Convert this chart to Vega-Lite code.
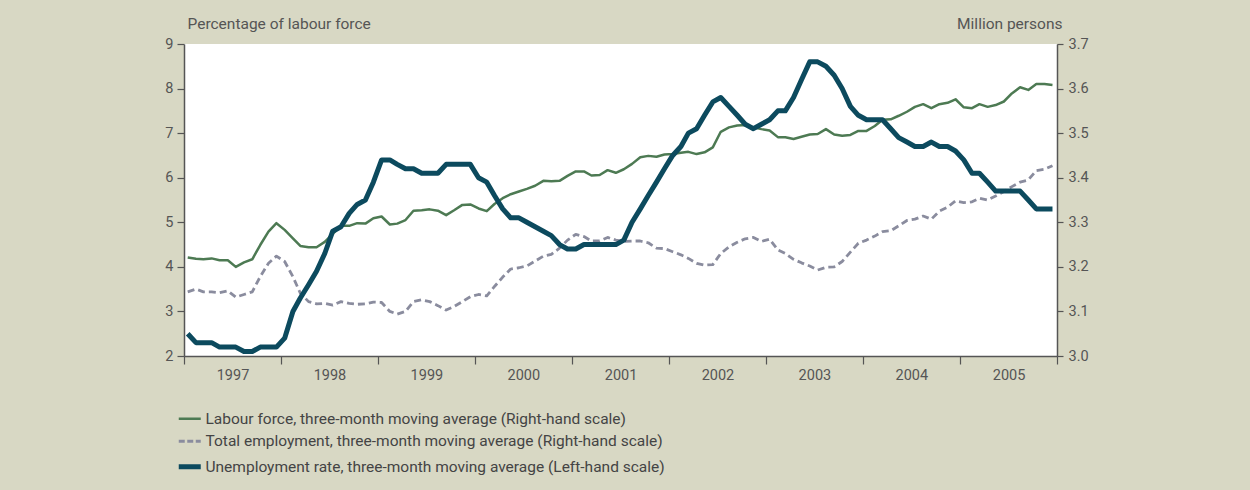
{
  "$schema": "https://vega.github.io/schema/vega-lite/v6.json",
  "width": 873,
  "height": 312,
  "autosize": {"type": "none"},
  "padding": {"left": 184, "top": 44, "right": 193, "bottom": 134},
  "background": "#d8d8c4",
  "config": {
    "view": {"fill": "white", "stroke": null},
    "font": "Roboto",
    "axis": {
      "labelFont": "Roboto", "labelFontSize": 14.5, "labelColor": "#555555",
      "titleFont": "Roboto", "titleFontSize": 15.5, "titleColor": "#555555", "titleFontWeight": "normal",
      "domainColor": "#555555", "domainWidth": 1.5, "tickColor": "#555555", "tickWidth": 1.2,
      "grid": false
    },
    "legend": {
      "labelFont": "Roboto", "labelFontSize": 15.5, "labelColor": "#444444", "labelLimit": 800
    }
  },
  "data": {
    "values": [
      {"d":"1997-01-15","lf":3.221,"emp":3.144,"ur":2.5},
      {"d":"1997-02-15","lf":3.218,"emp":3.150,"ur":2.3},
      {"d":"1997-03-15","lf":3.217,"emp":3.144,"ur":2.3},
      {"d":"1997-04-15","lf":3.219,"emp":3.144,"ur":2.3},
      {"d":"1997-05-15","lf":3.215,"emp":3.142,"ur":2.2},
      {"d":"1997-06-15","lf":3.215,"emp":3.146,"ur":2.2},
      {"d":"1997-07-15","lf":3.200,"emp":3.132,"ur":2.2},
      {"d":"1997-08-15","lf":3.210,"emp":3.138,"ur":2.1},
      {"d":"1997-09-15","lf":3.217,"emp":3.144,"ur":2.1},
      {"d":"1997-10-15","lf":3.249,"emp":3.178,"ur":2.2},
      {"d":"1997-11-15","lf":3.279,"emp":3.208,"ur":2.2},
      {"d":"1997-12-15","lf":3.298,"emp":3.224,"ur":2.2},
      {"d":"1998-01-15","lf":3.283,"emp":3.212,"ur":2.4},
      {"d":"1998-02-15","lf":3.264,"emp":3.178,"ur":3.0},
      {"d":"1998-03-15","lf":3.247,"emp":3.141,"ur":3.3},
      {"d":"1998-04-15","lf":3.244,"emp":3.122,"ur":3.6},
      {"d":"1998-05-15","lf":3.244,"emp":3.117,"ur":3.9},
      {"d":"1998-06-15","lf":3.256,"emp":3.118,"ur":4.3},
      {"d":"1998-07-15","lf":3.274,"emp":3.114,"ur":4.8},
      {"d":"1998-08-15","lf":3.292,"emp":3.122,"ur":4.9},
      {"d":"1998-09-15","lf":3.292,"emp":3.118,"ur":5.2},
      {"d":"1998-10-15","lf":3.298,"emp":3.116,"ur":5.4},
      {"d":"1998-11-15","lf":3.297,"emp":3.117,"ur":5.5},
      {"d":"1998-12-15","lf":3.309,"emp":3.121,"ur":5.9},
      {"d":"1999-01-15","lf":3.313,"emp":3.120,"ur":6.4},
      {"d":"1999-02-15","lf":3.295,"emp":3.100,"ur":6.4},
      {"d":"1999-03-15","lf":3.297,"emp":3.094,"ur":6.3},
      {"d":"1999-04-15","lf":3.305,"emp":3.100,"ur":6.2},
      {"d":"1999-05-15","lf":3.326,"emp":3.122,"ur":6.2},
      {"d":"1999-06-15","lf":3.327,"emp":3.126,"ur":6.1},
      {"d":"1999-07-15","lf":3.329,"emp":3.122,"ur":6.1},
      {"d":"1999-08-15","lf":3.326,"emp":3.113,"ur":6.1},
      {"d":"1999-09-15","lf":3.316,"emp":3.103,"ur":6.3},
      {"d":"1999-10-15","lf":3.327,"emp":3.111,"ur":6.3},
      {"d":"1999-11-15","lf":3.339,"emp":3.122,"ur":6.3},
      {"d":"1999-12-15","lf":3.340,"emp":3.133,"ur":6.3},
      {"d":"2000-01-15","lf":3.331,"emp":3.138,"ur":6.0},
      {"d":"2000-02-15","lf":3.325,"emp":3.135,"ur":5.9},
      {"d":"2000-03-15","lf":3.341,"emp":3.156,"ur":5.6},
      {"d":"2000-04-15","lf":3.354,"emp":3.177,"ur":5.3},
      {"d":"2000-05-15","lf":3.363,"emp":3.195,"ur":5.1},
      {"d":"2000-06-15","lf":3.369,"emp":3.198,"ur":5.1},
      {"d":"2000-07-15","lf":3.375,"emp":3.202,"ur":5.0},
      {"d":"2000-08-15","lf":3.382,"emp":3.213,"ur":4.9},
      {"d":"2000-09-15","lf":3.393,"emp":3.224,"ur":4.8},
      {"d":"2000-10-15","lf":3.392,"emp":3.228,"ur":4.7},
      {"d":"2000-11-15","lf":3.393,"emp":3.242,"ur":4.5},
      {"d":"2000-12-15","lf":3.404,"emp":3.260,"ur":4.4},
      {"d":"2001-01-15","lf":3.414,"emp":3.273,"ur":4.4},
      {"d":"2001-02-15","lf":3.414,"emp":3.268,"ur":4.5},
      {"d":"2001-03-15","lf":3.405,"emp":3.258,"ur":4.5},
      {"d":"2001-04-15","lf":3.406,"emp":3.258,"ur":4.5},
      {"d":"2001-05-15","lf":3.417,"emp":3.266,"ur":4.5},
      {"d":"2001-06-15","lf":3.411,"emp":3.260,"ur":4.5},
      {"d":"2001-07-15","lf":3.419,"emp":3.257,"ur":4.6},
      {"d":"2001-08-15","lf":3.431,"emp":3.258,"ur":5.0},
      {"d":"2001-09-15","lf":3.446,"emp":3.258,"ur":5.3},
      {"d":"2001-10-15","lf":3.449,"emp":3.254,"ur":5.6},
      {"d":"2001-11-15","lf":3.447,"emp":3.242,"ur":5.9},
      {"d":"2001-12-15","lf":3.452,"emp":3.241,"ur":6.2},
      {"d":"2002-01-15","lf":3.453,"emp":3.234,"ur":6.5},
      {"d":"2002-02-15","lf":3.456,"emp":3.227,"ur":6.7},
      {"d":"2002-03-15","lf":3.458,"emp":3.219,"ur":7.0},
      {"d":"2002-04-15","lf":3.453,"emp":3.208,"ur":7.1},
      {"d":"2002-05-15","lf":3.457,"emp":3.204,"ur":7.4},
      {"d":"2002-06-15","lf":3.468,"emp":3.205,"ur":7.7},
      {"d":"2002-07-15","lf":3.503,"emp":3.230,"ur":7.8},
      {"d":"2002-08-15","lf":3.513,"emp":3.245,"ur":7.6},
      {"d":"2002-09-15","lf":3.517,"emp":3.255,"ur":7.4},
      {"d":"2002-10-15","lf":3.518,"emp":3.263,"ur":7.2},
      {"d":"2002-11-15","lf":3.513,"emp":3.266,"ur":7.1},
      {"d":"2002-12-15","lf":3.509,"emp":3.257,"ur":7.2},
      {"d":"2003-01-15","lf":3.506,"emp":3.262,"ur":7.3},
      {"d":"2003-02-15","lf":3.491,"emp":3.238,"ur":7.5},
      {"d":"2003-03-15","lf":3.491,"emp":3.230,"ur":7.5},
      {"d":"2003-04-15","lf":3.487,"emp":3.217,"ur":7.8},
      {"d":"2003-05-15","lf":3.492,"emp":3.209,"ur":8.2},
      {"d":"2003-06-15","lf":3.497,"emp":3.202,"ur":8.6},
      {"d":"2003-07-15","lf":3.498,"emp":3.193,"ur":8.6},
      {"d":"2003-08-15","lf":3.509,"emp":3.199,"ur":8.5},
      {"d":"2003-09-15","lf":3.497,"emp":3.200,"ur":8.3},
      {"d":"2003-10-15","lf":3.494,"emp":3.212,"ur":8.0},
      {"d":"2003-11-15","lf":3.496,"emp":3.233,"ur":7.6},
      {"d":"2003-12-15","lf":3.505,"emp":3.253,"ur":7.4},
      {"d":"2004-01-15","lf":3.505,"emp":3.260,"ur":7.3},
      {"d":"2004-02-15","lf":3.516,"emp":3.269,"ur":7.3},
      {"d":"2004-03-15","lf":3.530,"emp":3.279,"ur":7.3},
      {"d":"2004-04-15","lf":3.531,"emp":3.281,"ur":7.1},
      {"d":"2004-05-15","lf":3.539,"emp":3.292,"ur":6.9},
      {"d":"2004-06-15","lf":3.548,"emp":3.304,"ur":6.8},
      {"d":"2004-07-15","lf":3.559,"emp":3.307,"ur":6.7},
      {"d":"2004-08-15","lf":3.565,"emp":3.314,"ur":6.7},
      {"d":"2004-09-15","lf":3.556,"emp":3.307,"ur":6.8},
      {"d":"2004-10-15","lf":3.565,"emp":3.325,"ur":6.7},
      {"d":"2004-11-15","lf":3.568,"emp":3.334,"ur":6.7},
      {"d":"2004-12-15","lf":3.576,"emp":3.348,"ur":6.6},
      {"d":"2005-01-15","lf":3.558,"emp":3.344,"ur":6.4},
      {"d":"2005-02-15","lf":3.556,"emp":3.346,"ur":6.1},
      {"d":"2005-03-15","lf":3.565,"emp":3.354,"ur":6.1},
      {"d":"2005-04-15","lf":3.559,"emp":3.350,"ur":5.9},
      {"d":"2005-05-15","lf":3.563,"emp":3.359,"ur":5.7},
      {"d":"2005-06-15","lf":3.571,"emp":3.369,"ur":5.7},
      {"d":"2005-07-15","lf":3.589,"emp":3.380,"ur":5.7},
      {"d":"2005-08-15","lf":3.603,"emp":3.390,"ur":5.7},
      {"d":"2005-09-15","lf":3.597,"emp":3.395,"ur":5.5},
      {"d":"2005-10-15","lf":3.610,"emp":3.416,"ur":5.3},
      {"d":"2005-11-15","lf":3.610,"emp":3.419,"ur":5.3},
      {"d":"2005-12-15","lf":3.608,"emp":3.427,"ur":5.3}
    ]
  },
  "encoding": {
    "x": {
      "field": "d", "type": "temporal", "title": null,
      "scale": {"type": "utc", "domain": [{"year": 1997, "month": 1, "date": 1, "utc": true}, {"year": 2006, "month": 1, "date": 1, "utc": true}]},
      "axis": {
        "values": [
          {"year": 1997, "month": 1, "date": 1, "utc": true},
          {"year": 1998, "month": 1, "date": 1, "utc": true},
          {"year": 1999, "month": 1, "date": 1, "utc": true},
          {"year": 2000, "month": 1, "date": 1, "utc": true},
          {"year": 2001, "month": 1, "date": 1, "utc": true},
          {"year": 2002, "month": 1, "date": 1, "utc": true},
          {"year": 2003, "month": 1, "date": 1, "utc": true},
          {"year": 2004, "month": 1, "date": 1, "utc": true},
          {"year": 2005, "month": 1, "date": 1, "utc": true},
          {"year": 2006, "month": 1, "date": 1, "utc": true}
        ],
        "labelExpr": "utcyear(datum.value) == 2006 ? '' : '' + utcyear(datum.value)",
        "labelOffset": 48.5, "labelFlush": false, "labelOverlap": false, "labelBound": false,
        "tickSize": 8, "labelPadding": 4
      }
    },
    "color": {
      "field": "series", "type": "nominal",
      "scale": {"domain": ["lf", "emp", "ur"], "range": ["#4d7a53", "#8a8c9e", "#0c4a5e"]},
      "legend": {
        "orient": "none", "legendX": -2, "legendY": 367, "title": null, "direction": "vertical",
        "padding": 0, "rowPadding": 5.5, "symbolType": "stroke", "symbolSize": 484, "labelOffset": 8,
        "labelExpr": "datum.value == 'lf' ? 'Labour force, three-month moving average (Right-hand scale)' : datum.value == 'emp' ? 'Total employment, three-month moving average (Right-hand scale)' : 'Unemployment rate, three-month moving average (Left-hand scale)'",
        "encode": {
          "symbols": {
            "update": {
              "strokeWidth": {"signal": "datum.value === 'ur' ? 5 : datum.value === 'emp' ? 2.8 : 2.5"},
              "strokeDash": {"signal": "datum.value === 'emp' ? [6, 2.5] : [1, 0]"}
            }
          }
        }
      }
    }
  },
  "layer": [
    {
      "encoding": {
        "y": {
          "field": "value", "type": "quantitative",
          "scale": {"domain": [3.0, 3.7], "zero": false, "nice": false},
          "axis": {
            "orient": "right", "values": [3.0, 3.1, 3.2, 3.3, 3.4, 3.5, 3.6, 3.7], "format": ".1f",
            "tickSize": 6, "labelPadding": 5,
            "title": "Million persons", "titleAngle": 0, "titleAlign": "right", "titleBaseline": "alphabetic",
            "titleX": 5, "titleY": -16
          }
        }
      },
      "layer": [
        {
          "transform": [{"fold": ["lf"], "as": ["series", "value"]}],
          "mark": {"type": "line", "strokeJoin": "round", "strokeWidth": 2.5}
        },
        {
          "transform": [{"fold": ["emp"], "as": ["series", "value"]}],
          "mark": {"type": "line", "strokeJoin": "round", "strokeWidth": 2.8, "strokeDash": [7, 4]}
        }
      ]
    },
    {
      "transform": [{"fold": ["ur"], "as": ["series", "value"]}],
      "mark": {"type": "line", "strokeJoin": "round", "strokeWidth": 5},
      "encoding": {
        "y": {
          "field": "value", "type": "quantitative",
          "scale": {"domain": [2, 9], "zero": false, "nice": false},
          "axis": {
            "orient": "left", "values": [2, 3, 4, 5, 6, 7, 8, 9],
            "tickSize": 7, "labelPadding": 4,
            "title": "Percentage of labour force", "titleAngle": 0, "titleAlign": "left", "titleBaseline": "alphabetic",
            "titleX": 3, "titleY": -16
          }
        }
      }
    }
  ],
  "resolve": {"scale": {"y": "independent"}}
}
